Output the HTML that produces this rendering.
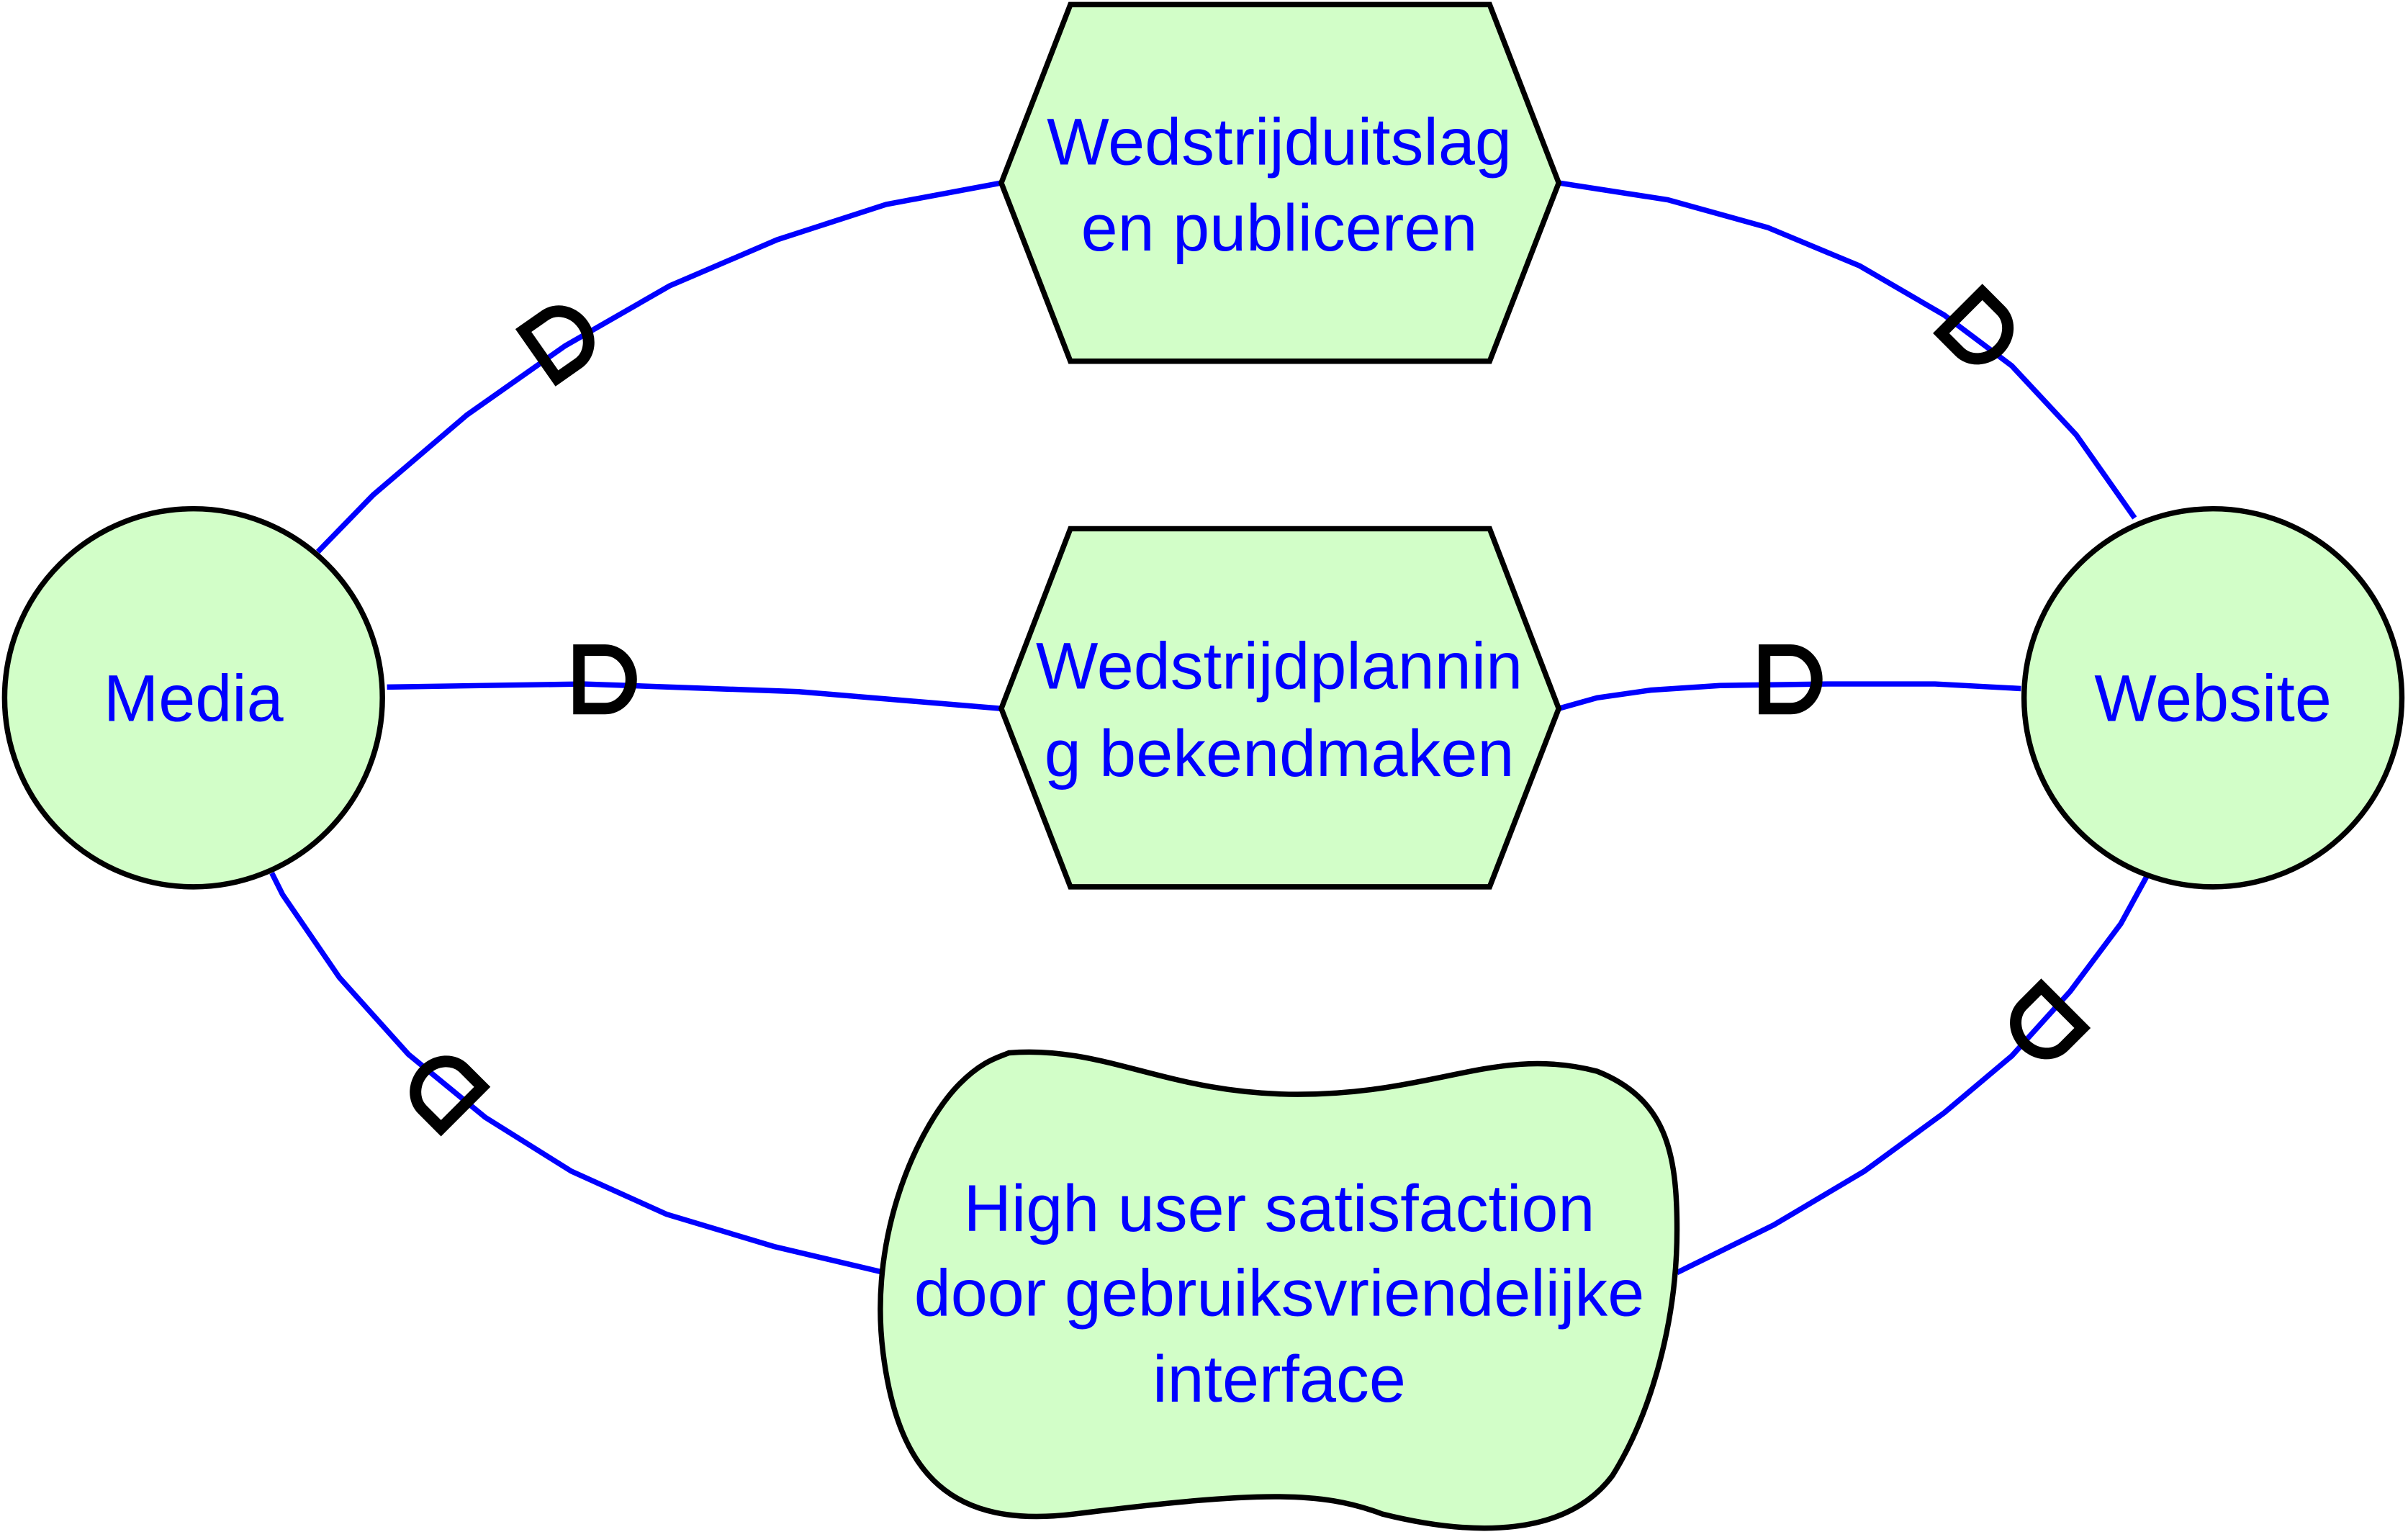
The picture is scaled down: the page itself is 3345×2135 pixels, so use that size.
<!DOCTYPE html>
<html><head><meta charset="utf-8">
<style>
html,body{margin:0;padding:0;background:#fff;}
svg{display:block;}
text{font-family:"Liberation Sans",sans-serif;fill:#0000ff;font-size:43px;text-anchor:middle;}
</style></head>
<body>
<svg width="3345" height="2135" viewBox="0 0 1568 1000" preserveAspectRatio="none" xmlns="http://www.w3.org/2000/svg">
<g fill="none" stroke="#0000ff" stroke-width="3.5">
<polyline points="207,359 243,322 304,270 368,225 436,186 506,156 577,133 652,119"/>
<polyline points="1015,119 1086,130 1151,148 1211,173 1266,205 1310,238 1352,283 1390,337"/>
<polyline points="252,447 380,445 520,450 652,461"/>
<polyline points="1015,461 1040,454 1075,449 1120,446 1190,445 1260,445 1316,448"/>
<polyline points="177,568 184,582 221,636 266,686 316,727 372,762 434,790 504,811 576,828"/>
<polyline points="1398,570 1381,601 1348,645 1310,687 1266,724 1214,762 1155,797 1092,828"/>
</g>
<g fill="#d2fec8" stroke="#000" stroke-width="3.5">
<circle cx="126" cy="454" r="123"/>
<circle cx="1441" cy="454" r="123"/>
<polygon points="652,119 697,3 970,3 1015,119 970,235 697,235"/>
<polygon points="652,461 697,344 970,344 1015,461 970,577 697,577"/>
<path d="M657,685 C720,680 760,712 845,712 C935,712 975,680 1040,697 C1085,715 1092,750 1092,800 C1092,860 1075,920 1050,960 C1020,1000 960,1000 900,985 C860,970 820,970 700,985 C620,995 585,960 575,880 C565,800 600,730 625,705 C640,690 650,688 657,685 Z"/>
</g>
<g fill="none" stroke="#000" stroke-width="7.5" stroke-linejoin="miter">
<path transform="translate(364,222) rotate(-35)" d="M-15,-19 L2,-19 A17,19 0 0 1 2,19 L-15,19 Z"/>
<path transform="translate(1288,214) rotate(45)" d="M-15,-19 L2,-19 A17,19 0 0 1 2,19 L-15,19 Z"/>
<path transform="translate(392,442)" d="M-15,-19 L2,-19 A17,19 0 0 1 2,19 L-15,19 Z"/>
<path transform="translate(1164,442)" d="M-15,-19 L2,-19 A17,19 0 0 1 2,19 L-15,19 Z"/>
<path transform="translate(290,710) rotate(-135)" d="M-15,-19 L2,-19 A17,19 0 0 1 2,19 L-15,19 Z"/>
<path transform="translate(1332,666) rotate(135)" d="M-15,-19 L2,-19 A17,19 0 0 1 2,19 L-15,19 Z"/>
</g>
<text x="126" y="469">Media</text>
<text x="1441" y="469">Website</text>
<text x="833" y="107">Wedstrijduitslag</text>
<text x="833" y="163">en publiceren</text>
<text x="833" y="448">Wedstrijdplannin</text>
<text x="833" y="505">g bekendmaken</text>
<text x="833" y="801">High user satisfaction</text>
<text x="833" y="856">door gebruiksvriendelijke</text>
<text x="833" y="912">interface</text>
</svg>
</body></html>
